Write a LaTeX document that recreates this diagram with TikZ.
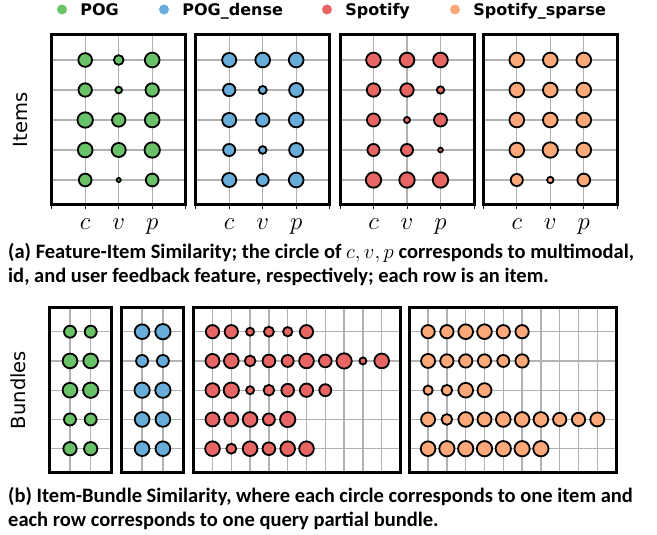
\documentclass[tikz,border=0pt]{standalone}
\usepackage{fontspec}
\usepackage{amsmath}
\newfontfamily\legfont{DejaVu Sans}
\newfontfamily\capfont{Carlito}
\usetikzlibrary{positioning}
\definecolor{pog}{RGB}{106,194,104}
\definecolor{pogd}{RGB}{104,173,217}
\definecolor{spot}{RGB}{231,102,100}
\definecolor{spots}{RGB}{252,168,120}
\tikzset{frame/.style = {draw, line width = 3},
  gridln/.style = {draw = black!30, line width = 1.3},
  dot/.style = {draw, line width = 1.8},
  legdot/.style = {circle, inner sep = 0, minimum size = 10},
  legtext/.style = {inner sep = 0, text height = 11.7pt, text depth = 0pt,
    font = \legfont\bfseries\fontsize{16}{16}\selectfont},
  axlabel/.style = {rotate = 90, inner sep = 0, font = \legfont\fontsize{19.5}{19.5}\selectfont},
  ticklbl/.style = {anchor = base, inner sep = 0, font = \fontsize{25}{25}\selectfont},
  caption/.style = {anchor = base west, inner sep = 0,
    font = \capfont\bfseries\fontsize{20.5}{24}\selectfont}}

\begin{document}
\begin{tikzpicture}[x = 1pt, y = -1pt]
  \useasboundingbox (0, 0) rectangle (657, 535);
  % legend
  \foreach \x/\col/\lbl [count=\i] in {62/pog/POG, 164/pogd/POG\_dense, 327/spot/Spotify, 455/spots/Spotify\_sparse} {
    \node [legdot, fill = \col] (m\i) at (\x, 9.5) {};
    \node [legtext, right = 13pt of m\i] (l\i) {\lbl};
  }
  % items: feature-item similarity
  \foreach \px/\col/\data [count=\i] in {
      51.7/pog/{14.3,10.3,15.3,14,7.3,14,16,14,15.3,15.3,14.7,16,13.3,4.7,13.3},
      195.7/pogd/{14.7,15.3,15.3,13,8.7,14.7,14.7,14,15.3,12.7,8.3,14.7,14.7,12.7,15.3},
      340/spot/{15.3,15.3,15.3,14,14,8,13.7,6.7,13.7,12.7,12.7,5.3,16,16,16},
      483.3/spots/{15.3,15.3,15.3,15.3,15.3,15.3,15.3,15.3,15.3,15.3,16,15.3,12.7,7,13.3}} {
    \foreach \y in {60, 90, ..., 180}
      \draw [gridln] (\px, \y) -- ++(134, 0);
    \foreach \k in {1, 2, 3}
      \draw [gridln] (\px + 33.5*\k, 35) -- (\px + 33.5*\k, 204);
    \foreach \k in {0, ..., 4}
      \draw [black!85, line width = 1] (\px + 33.5*\k, 204) -- ++(0, 4.5);
    \foreach \k/\t in {1/c, 2/v, 3/p}
      \node [ticklbl] (t\i\k) at (\px + 33.5*\k, 229.5) {$\t$};
    \foreach \d [count=\n from 0] in \data {
      \pgfmathsetmacro\rad{\d/2 - 0.3}
      \filldraw [dot, fill = \col] ({\px + 33.5*(1 + mod(\n, 3))}, {60 + 30*int(\n/3)}) circle [radius = \rad pt];
    }
    \draw [frame] (\px, 35) rectangle ++(134, 169);
  }
  \node [axlabel] (items) at (21, 120) {Items};
  % bundles: item-bundle similarity
  \foreach \px/\u/\n/\col/\rows in {
      49.3/20.7/2/pog/{{12,12},{14.7,14.7},{14.7,15.3},{12,12},{13.3,13.3}},
      121.3/20.8/2/pogd/{{14.7,15.3},{12,12},{15.3,15.3},{14.7,14.7},{14.7,14.7}},
      193.7/18.8/10/spot/{{13.3,13.3,8,10,9.3,13.3},{14,14.7,10.7,12.7,12,14.7,12.7,15.3,7,14.7},
        {14,15.3,8,10.7,12.7,13.3,12},{14,14,14.7,12,15.3},{14.7,10,14.7,12.7,14.7,14.7}},
      409.3/18.8/10/spots/{{13.3,13.3,14.7,14.7,13.3,13.3},{14,13.3,13.3,13.3,12,13.3},{9.3,10.7,14.7,14},
        {14,10.7,14.7,14,14.7,14.7,14.7,13.3,13.3,14},{14.7,15.3,15.3,15.3,15.3,15.3,15.3}}} {
    \foreach \j in {0, ..., 4}
      \draw [gridln] (\px, 331.7 + 29.25*\j) -- ++({\u*(\n + 1)}, 0);
    \foreach \k in {1, ..., \n}
      \draw [gridln] (\px + \u*\k, 307.3) -- (\px + \u*\k, 472.7);
    \foreach \bdl [count=\j from 0] in \rows
      \foreach \d [count=\k] in \bdl {
        \pgfmathsetmacro\rad{\d/2}
        \filldraw [dot, fill = \col] (\px + \u*\k, 331.7 + 29.25*\j) circle [radius = \rad pt];
      }
    \draw [frame] (\px, 307.3) rectangle ++({\u*(\n + 1)}, 165.4);
  }
  \node [axlabel] (bundles) at (18, 390) {Bundles};
  % captions
  \node [caption] (capa1) at (8, 258.3) {(a) Feature-Item Similarity; the circle of $c, v, p$ corresponds to multimodal,};
  \node [caption] (capa2) at (8, 282.3) {id, and user feedback feature, respectively; each row is an item.};
  \node [caption] (capb1) at (8, 502.3) {(b) Item-Bundle Similarity, where each circle corresponds to one item and};
  \node [caption] (capb2) at (8, 526) {each row corresponds to one query partial bundle.};
\end{tikzpicture}
\end{document}
